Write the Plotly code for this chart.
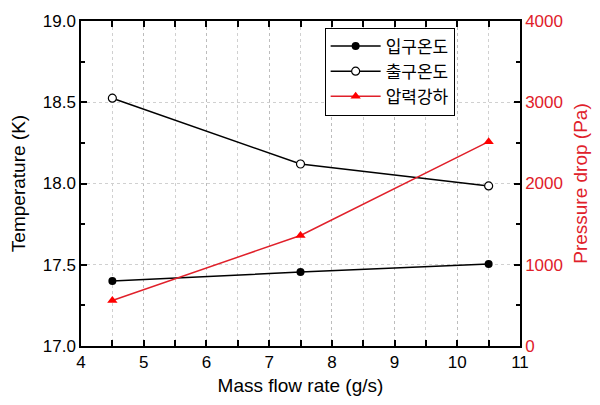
import plotly.graph_objects as go

flow = [4.5, 7.5, 10.5]
t_in = [17.40, 17.455, 17.505]
t_out = [18.525, 18.12, 17.985]
dp = [560, 1360, 2515]

RED = "#e0202a"
FONT = "Liberation Sans, Arial"
fig = go.Figure()
fig.add_trace(go.Scatter(x=flow, y=t_in, name="입구온도", mode="lines+markers",
                         line=dict(color="black", width=1.5),
                         marker=dict(symbol="circle", size=8, color="black")))
fig.add_trace(go.Scatter(x=flow, y=t_out, name="출구온도", mode="lines+markers",
                         line=dict(color="black", width=1.5),
                         marker=dict(symbol="circle", size=8, color="white",
                                     line=dict(color="black", width=1.2))))
fig.add_trace(go.Scatter(x=flow, y=dp, name="압력강하", mode="lines+markers", yaxis="y2",
                         line=dict(color=RED, width=1.5),
                         marker=dict(symbol="triangle-up", size=9, color="#ff0000")))

tickfont = dict(family=FONT, size=17, color="black")
fig.update_layout(
    width=600, height=405,
    margin=dict(l=81, r=78, t=18, b=59),
    plot_bgcolor="white", paper_bgcolor="white",
    showlegend=True,
    legend=dict(x=0.555, y=0.98, xanchor="left", yanchor="top",
                bordercolor="black", borderwidth=1, bgcolor="white",
                font=dict(family="Noto Sans CJK KR", size=17, color="black"),
                itemwidth=50, tracegroupgap=0),
    xaxis=dict(range=[4, 11], dtick=1, showline=True, linecolor="black", linewidth=1.5,
               mirror="allticks", ticks="inside", ticklen=6, tickcolor="black", tickwidth=1.5,
               tickfont=tickfont,
               showgrid=True, gridcolor="#bdbdbd", griddash="dot", gridwidth=1,
               minor=dict(dtick=0.5, ticks="inside", ticklen=4, tickcolor="black",
                          showgrid=True, gridcolor="#d0d0d0", griddash="dot"),
               zeroline=False,
               title=dict(text="Mass flow rate (g/s)", font=dict(family=FONT, size=19, color="black"), standoff=8)),
    yaxis=dict(range=[17.0, 19.0], dtick=0.5, tickformat=".1f", showline=True, linecolor="black",
               linewidth=1.5, ticks="inside", ticklen=6, tickcolor="black", tickwidth=1.5,
               tickfont=tickfont,
               showgrid=True, gridcolor="#d0d0d0", griddash="dot", gridwidth=1,
               minor=dict(dtick=0.25, ticks="inside", ticklen=4, tickcolor="black", showgrid=False),
               zeroline=False,
               title=dict(text="Temperature (K)", font=dict(family=FONT, size=19, color="black"), standoff=12)),
    yaxis2=dict(range=[0, 4000], dtick=1000, overlaying="y", side="right", showline=True,
                linecolor="black", linewidth=1.5, ticks="inside", ticklen=6, tickcolor="black",
                tickwidth=1.5, tickfont=dict(family=FONT, size=17, color=RED),
                showgrid=False, zeroline=False,
                minor=dict(dtick=500, ticks="inside", ticklen=4, tickcolor="black"),
                title=dict(text="Pressure drop (Pa)", font=dict(family=FONT, size=19, color=RED), standoff=12)),
)
fig.write_html("out.html")
